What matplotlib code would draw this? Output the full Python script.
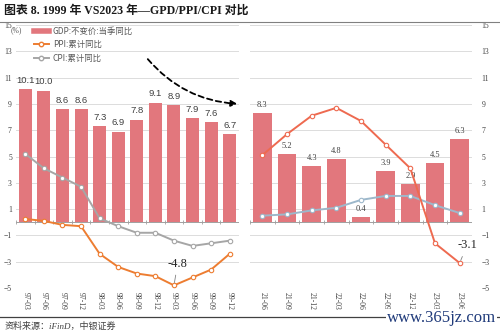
import matplotlib
matplotlib.use("Agg")
import matplotlib.pyplot as plt
from matplotlib.lines import Line2D
from matplotlib.patches import FancyArrowPatch
import numpy as np

plt.rcParams['font.family'] = ['Liberation Serif', 'Noto Sans CJK SC', 'DejaVu Sans']

# 1999 side
q_99 = ["97-03", "97-06", "97-09", "97-12", "98-03", "98-06",
        "98-09", "98-12", "99-03", "99-06", "99-09", "99-12"]
gdp_99 = [10.1, 10.0, 8.6, 8.6, 7.3, 6.9, 7.8, 9.1, 8.9, 7.9, 7.6, 6.7]
ppi_99 = [0.25, 0.1, -0.2, -0.3, -2.4, -3.4, -3.9, -4.1, -4.8, -4.2, -3.6, -2.4]
cpi_99 = [5.2, 4.1, 3.4, 2.7, 0.3, -0.3, -0.8, -0.8, -1.4, -1.8, -1.6, -1.4]

# 2023 side
q_23 = ["21-06", "21-09", "21-12", "22-03", "22-06", "22-09", "22-12", "23-03", "23-06"]
gdp_23 = [8.3, 5.2, 4.3, 4.8, 0.4, 3.9, 2.9, 4.5, 6.3]
ppi_23 = [5.1, 6.7, 8.1, 8.7, 7.7, 5.9, 4.1, -1.6, -3.1]
cpi_23 = [0.5, 0.6, 0.9, 1.1, 1.7, 2.0, 2.0, 1.3, 0.7]

bar_c = "#E2777D"
ppi_c1 = "#ED7D31"
cpi_c1 = "#A6A6A6"
ppi_c2 = "#EE6A50"
cpi_c2 = "#9DB8CB"
grid_c = "#DCDCDC"

fig = plt.figure(figsize=(5, 3.33), dpi=100)
bottom, height = 45 / 333, 263 / 333
ax1 = fig.add_axes([16 / 500, bottom, 223 / 500, height])
ax2 = fig.add_axes([250 / 500, bottom, 222 / 500, height])


def base(ax, cats):
    x = np.arange(len(cats))
    ax.set_xlim(-0.5, len(cats) - 0.5)
    ax.set_ylim(-5, 15)
    ax.set_yticks(range(-5, 16, 2))
    ax.grid(axis='y', color=grid_c, lw=0.7)
    ax.set_axisbelow(True)
    for s in ax.spines.values():
        s.set_visible(False)
    ax.set_xticks(x)
    ax.set_xticklabels(cats, rotation=-90, fontsize=5.5, color="#404040")
    ax.tick_params(axis='x', length=0, pad=3)
    ax.tick_params(axis='y', length=0, labelsize=5.5, labelcolor="#404040")
    ax.axhline(0, color="#A0A0A0", lw=0.7, zorder=2)
    ax.vlines(np.arange(len(cats) + 1) - 0.5, -0.15, 0.15, color="#A0A0A0", lw=0.6, zorder=2)
    return x


x1 = base(ax1, q_99)
ax1.bar(x1, gdp_99, 0.7, color=bar_c, zorder=1)
for xi, v in zip(x1, gdp_99):
    ax1.text(xi, v + 0.35, f"{v:.1f}", ha='center', va='bottom', fontsize=6.8,
             family='Liberation Sans', color="#404040")
ax1.plot(x1, cpi_99, color=cpi_c1, lw=1.4, marker='o', ms=3.2, mfc='white',
         mec=cpi_c1, mew=0.8, zorder=3)
ax1.plot(x1, ppi_99, color=ppi_c1, lw=1.4, marker='o', ms=3.2, mfc='white',
         mec=ppi_c1, mew=0.8, zorder=3)
ax1.tick_params(axis='y', pad=3)
i_min = int(np.argmin(ppi_99))
ax1.annotate(f"{ppi_99[i_min]:.1f}", xy=(x1[i_min], ppi_99[i_min]),
             xytext=(x1[i_min] + 0.2, ppi_99[i_min] + 1.2), fontsize=9,
             ha='center', va='bottom', color="#262626",
             arrowprops=dict(arrowstyle='-', color="#808080", lw=0.6))

x2 = base(ax2, q_23)
ax2.yaxis.tick_right()
ax2.tick_params(axis='y', pad=7)
ax2.bar(x2, gdp_23, 0.77, color=bar_c, zorder=1)
for xi, v in zip(x2, gdp_23):
    ax2.text(xi, v + 0.3, f"{v:.1f}", ha='center', va='bottom', fontsize=6,
             color="#404040")
ax2.plot(x2, cpi_23, color=cpi_c2, lw=1.4, marker='o', ms=3.2, mfc='white',
         mec=cpi_c2, mew=0.8, zorder=3)
ax2.plot(x2, ppi_23, color=ppi_c2, lw=1.4, marker='o', ms=3.2, mfc='white',
         mec=ppi_c2, mew=0.8, zorder=3)
ax2.annotate(f"{ppi_23[-1]:.1f}", xy=(x2[-1], ppi_23[-1]),
             xytext=(x2[-1] + 0.3, ppi_23[-1] + 0.9), fontsize=9,
             ha='center', va='bottom', color="#262626",
             arrowprops=dict(arrowstyle='-', color="#808080", lw=0.6))

# legend
handles = [
    Line2D([], [], color=bar_c, lw=4),
    Line2D([], [], color=ppi_c1, lw=1.4, marker='o', ms=3.2, mfc='white', mec=ppi_c1),
    Line2D([], [], color=cpi_c1, lw=1.4, marker='o', ms=3.2, mfc='white', mec=cpi_c1),
]
labels = ["GDP:不变价:当季同比", "PPI:累计同比", "CPI:累计同比"]
fig.legend(handles, labels, loc='upper left', bbox_to_anchor=(26 / 500, 1 - 19 / 333),
           frameon=False, prop={'family': ['Noto Sans CJK SC'], 'size': 6},
           handlelength=1.8, handletextpad=0.5, labelspacing=0.55,
           labelcolor="#595959")
fig.text(16 / 500, 1 - 30 / 333, "(%)", fontsize=5.5, color="#595959", va='center',
         ha='center')

# dashed trend arrow
arr = FancyArrowPatch((146 / 500, 1 - 57 / 333), (240 / 500, 1 - 104 / 333),
                      transform=fig.transFigure, connectionstyle="arc3,rad=0.22",
                      arrowstyle='-|>', mutation_scale=9, color='black',
                      lw=1.3, ls=(0, (3, 2)))
fig.add_artist(arr)

# title and source
fig.text(4 / 500, 1 - 11 / 333, "图表 8. 1999 年 VS2023 年—GPD/PPI/CPI 对比",
         fontsize=8.6, fontweight='bold', va='center', color="#1a1a1a")
fig.add_artist(Line2D([0, 1], [1 - 22 / 333, 1 - 22 / 333], transform=fig.transFigure,
                      color="#808080", lw=0.8))
fig.add_artist(Line2D([0, 1], [1 - 317 / 333, 1 - 317 / 333], transform=fig.transFigure,
                      color="#404040", lw=0.9))
fig.text(5 / 500, 1 - 326 / 333, "资料来源：iFinD，中银证券", fontsize=6.5,
         style='italic', va='center', color="#404040")
fig.text(496 / 500, 1 - 318 / 333, "www.365jz.com", fontsize=12, ha='right',
         va='center', color="#1F3A7A", family='Liberation Serif',
         bbox=dict(facecolor='white', edgecolor='none', pad=0.5))

fig.savefig("out.png", dpi=100)
